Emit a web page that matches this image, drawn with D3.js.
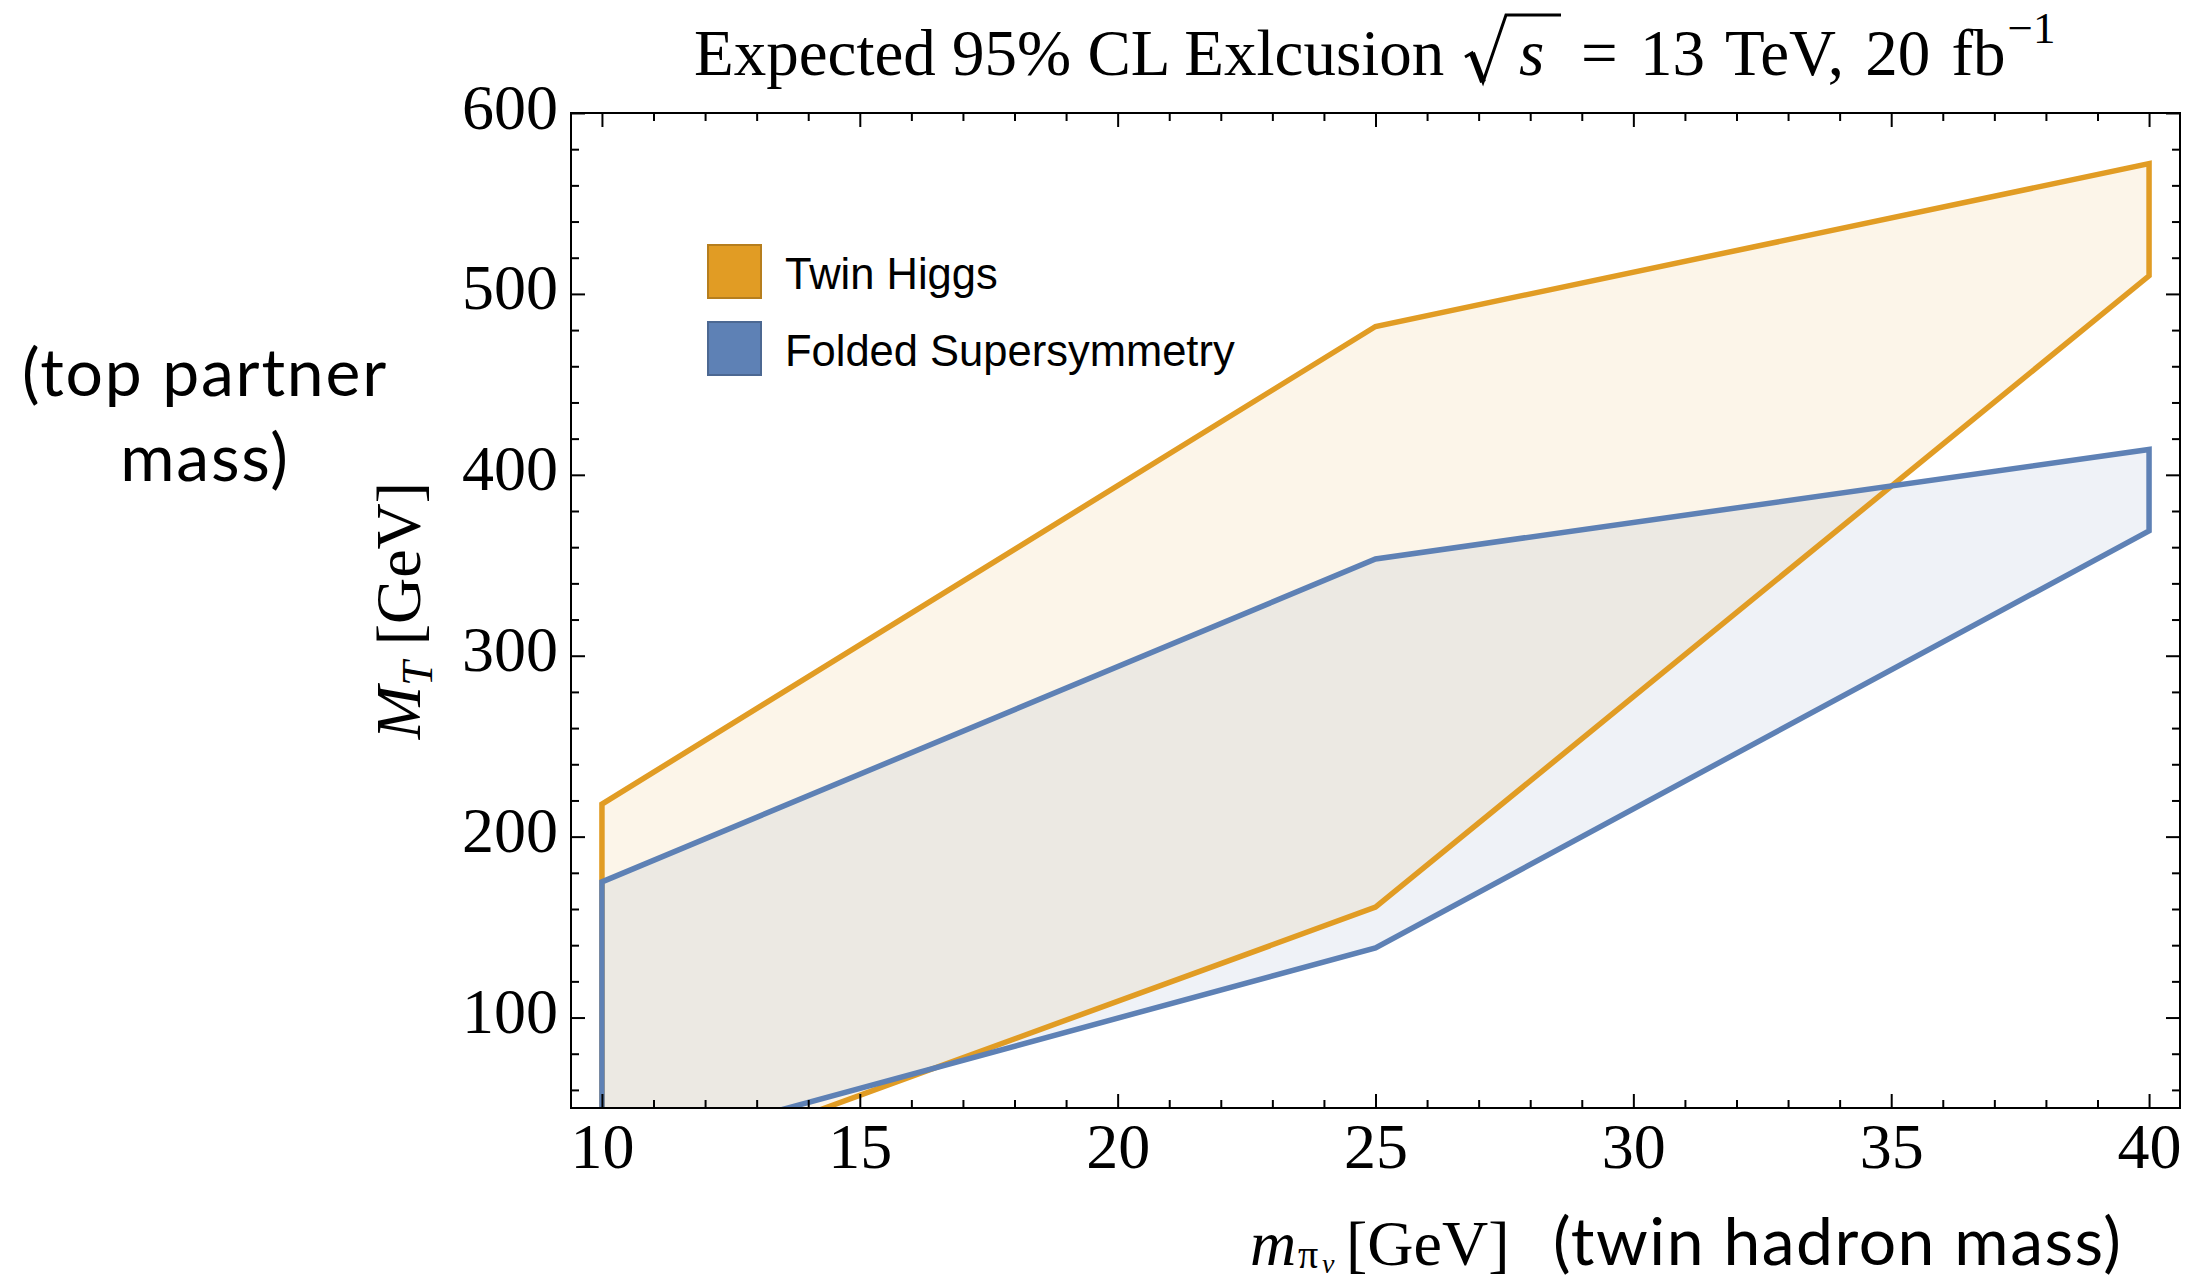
<!DOCTYPE html>
<html>
<head>
<meta charset="utf-8">
<script src="https://cdn.jsdelivr.net/npm/d3@7"></script>
<style>
  body { margin: 0; background: #ffffff; }
  svg { display: block; }
</style>
</head>
<body>
<svg id="chart" width="2200" height="1280"></svg>
<script>
// Benchmark twin-hadron masses (GeV)
const massPoints = [10, 25, 40];

// Expected exclusion band edges for the top-partner mass M_T (GeV)
const twinHiggsUpper = [218, 482, 572];
const twinHiggsLower = [5, 161, 510];
const foldedSusyUpper = [175, 353.5, 414];
const foldedSusyLower = [22, 138.5, 369];

const seriesNames = ["Twin Higgs", "Folded Supersymmetry"];
const seriesColors = ["#E19C24", "#5E81B5"];

const xMajorTicks = [10, 15, 20, 25, 30, 35, 40];
const xMinorTicks = d3.range(10, 41).filter(v => v % 5 !== 0);
const yMajorTicks = [100, 200, 300, 400, 500, 600];
const yMinorTicks = d3.range(60, 600, 20).filter(v => v % 100 !== 0);

const xDomain = [9.4, 40.6];
const yDomain = [50, 600];

const SERIF = "'Liberation Serif', 'Times New Roman', serif";
const SANS = "'Liberation Sans', Arial, sans-serif";
const HUMANIST = "Lato, 'Open Sans', sans-serif";

const svg = d3.select("#chart");
const frame = { left: 571, right: 2180, top: 113, bottom: 1108 };

const x = d3.scaleLinear().domain(xDomain).range([frame.left, frame.right]);
const y = d3.scaleLinear().domain(yDomain).range([frame.bottom, frame.top]);

// closed region: upper edge left-to-right, lower edge right-to-left
function band(upper, lower) {
  const top = massPoints.map((m, i) => [m, upper[i]]);
  const bottom = massPoints.map((m, i) => [m, lower[i]]).reverse();
  return top.concat(bottom);
}
const bands = [band(twinHiggsUpper, twinHiggsLower), band(foldedSusyUpper, foldedSusyLower)];

svg.append("defs").append("clipPath").attr("id", "plot-clip")
  .append("rect")
  .attr("x", frame.left).attr("y", frame.top)
  .attr("width", frame.right - frame.left).attr("height", frame.bottom - frame.top);

const line = d3.line().x(d => x(d[0])).y(d => y(d[1])).curve(d3.curveLinearClosed);

const plot = svg.append("g").attr("clip-path", "url(#plot-clip)");
plot.selectAll("path.fill").data(bands).join("path")
  .attr("class", "fill")
  .attr("d", line)
  .attr("fill", (d, i) => seriesColors[i])
  .attr("fill-opacity", 0.1)
  .attr("stroke", "none");
plot.selectAll("path.edge").data(bands).join("path")
  .attr("class", "edge")
  .attr("d", line)
  .attr("fill", "none")
  .attr("stroke", (d, i) => seriesColors[i])
  .attr("stroke-width", 5.5)
  .attr("stroke-linejoin", "miter");

// frame
svg.append("rect")
  .attr("x", frame.left).attr("y", frame.top)
  .attr("width", frame.right - frame.left).attr("height", frame.bottom - frame.top)
  .attr("fill", "none").attr("stroke", "#000").attr("stroke-width", 2);

function tickAxis(axisFn, scale, values, size, translate) {
  const g = svg.append("g").attr("transform", translate)
    .call(axisFn(scale).tickValues(values).tickSize(-size).tickSizeOuter(0).tickFormat(""));
  g.select(".domain").remove();
  g.selectAll(".tick line").attr("stroke", "#000").attr("stroke-width", 2);
  return g;
}

// inward ticks on all four sides
tickAxis(d3.axisBottom, x, xMinorTicks, 8, `translate(0,${frame.bottom})`);
tickAxis(d3.axisTop, x, xMinorTicks, 8, `translate(0,${frame.top})`);
tickAxis(d3.axisTop, x, xMajorTicks, 14, `translate(0,${frame.top})`);
tickAxis(d3.axisLeft, y, yMinorTicks, 8, `translate(${frame.left},0)`);
tickAxis(d3.axisRight, y, yMinorTicks, 8, `translate(${frame.right},0)`);
tickAxis(d3.axisRight, y, yMajorTicks, 14, `translate(${frame.right},0)`);

const xAxis = svg.append("g").attr("transform", `translate(0,${frame.bottom})`)
  .call(d3.axisBottom(x).tickValues(xMajorTicks).tickSize(-14).tickSizeOuter(0).tickFormat(d3.format("d")));
xAxis.select(".domain").remove();
xAxis.selectAll(".tick line").attr("stroke", "#000").attr("stroke-width", 2);
xAxis.selectAll(".tick text")
  .attr("y", 60).attr("dy", null)
  .attr("fill", "#000")
  .style("font-family", SERIF).style("font-size", "64px");

const yAxis = svg.append("g").attr("transform", `translate(${frame.left},0)`)
  .call(d3.axisLeft(y).tickValues(yMajorTicks).tickSize(-14).tickSizeOuter(0).tickFormat(d3.format("d")));
yAxis.select(".domain").remove();
yAxis.selectAll(".tick line").attr("stroke", "#000").attr("stroke-width", 2);
yAxis.selectAll(".tick text")
  .attr("x", -13).attr("y", 15).attr("dy", null)
  .attr("text-anchor", "end")
  .attr("fill", "#000")
  .style("font-family", SERIF).style("font-size", "64px");

// title with a drawn radical over s
const titleBase = 75;
const title = svg.append("text")
  .attr("y", titleBase)
  .attr("font-family", SERIF).attr("font-size", 65).attr("fill", "#000");
title.append("tspan").attr("x", 694).text("Expected 95% CL Exlcusion");
const sX = 1519;
title.append("tspan").attr("x", sX).attr("font-style", "italic").text("s");
title.append("tspan").attr("x", sX + 62).text("=");
title.append("tspan").attr("x", sX + 121).attr("word-spacing", 5).text("13 TeV, 20 fb");
title.append("tspan").attr("dy", -32).attr("dx", 2).attr("font-size", 45).text("\u22121");

const rad = d3.path();
rad.moveTo(sX - 54, titleBase - 18);
rad.lineTo(sX - 47, titleBase - 22);
rad.lineTo(sX - 36, titleBase + 7);
rad.lineTo(sX - 13, titleBase - 60);
rad.lineTo(sX + 42, titleBase - 60);
svg.append("path").attr("d", rad.toString())
  .attr("fill", "none").attr("stroke", "#000").attr("stroke-width", 3)
  .attr("stroke-linejoin", "miter");
svg.append("line")
  .attr("x1", sX - 47).attr("y1", titleBase - 22)
  .attr("x2", sX - 36).attr("y2", titleBase + 7)
  .attr("stroke", "#000").attr("stroke-width", 6);

// y axis title
const yTitle = svg.append("text")
  .attr("transform", `translate(420,${(frame.top + frame.bottom) / 2}) rotate(-90)`)
  .attr("text-anchor", "middle")
  .attr("font-family", SERIF).attr("font-size", 64).attr("fill", "#000");
yTitle.append("tspan").attr("font-style", "italic").text("M");
yTitle.append("tspan").attr("font-style", "italic").attr("font-size", 44).attr("dy", 12).text("T");
yTitle.append("tspan").attr("dy", -12).text(" [GeV]");

// x axis title
const xt = svg.append("g").attr("font-family", SERIF).attr("fill", "#000");
xt.append("text").attr("x", 1250).attr("y", 1265).attr("font-size", 64).attr("font-style", "italic").text("m");
xt.append("text").attr("x", 1298).attr("y", 1268).attr("font-size", 40).text("\u03c0");
xt.append("text").attr("x", 1322).attr("y", 1273).attr("font-size", 28).attr("font-style", "italic").text("v");
xt.append("text").attr("x", 1346).attr("y", 1265).attr("font-size", 64).text("[GeV]");

svg.append("text")
  .attr("x", 1553).attr("y", 1265)
  .attr("font-family", HUMANIST).attr("font-size", 66).attr("letter-spacing", 1.5)
  .attr("fill", "#000")
  .text("(twin hadron mass)");

const side = svg.append("text")
  .attr("text-anchor", "middle")
  .attr("font-family", HUMANIST).attr("font-size", 66).attr("letter-spacing", 1.8)
  .attr("fill", "#000");
side.append("tspan").attr("x", 205).attr("y", 396).text("(top partner");
side.append("tspan").attr("x", 205).attr("y", 481).text("mass)");

// legend
const legend = svg.append("g").attr("transform", "translate(708,245)");
const item = legend.selectAll("g").data(seriesNames).join("g")
  .attr("transform", (d, i) => `translate(0,${i * 77})`);
item.append("rect")
  .attr("width", 53).attr("height", 53)
  .attr("fill", (d, i) => seriesColors[i])
  .attr("stroke", (d, i) => d3.color(seriesColors[i]).darker(0.6))
  .attr("stroke-width", 2);
item.append("text")
  .attr("x", 77).attr("y", 44)
  .attr("font-family", SANS).attr("font-size", 43.5).attr("fill", "#000")
  .text(d => d);
</script>
</body>
</html>
